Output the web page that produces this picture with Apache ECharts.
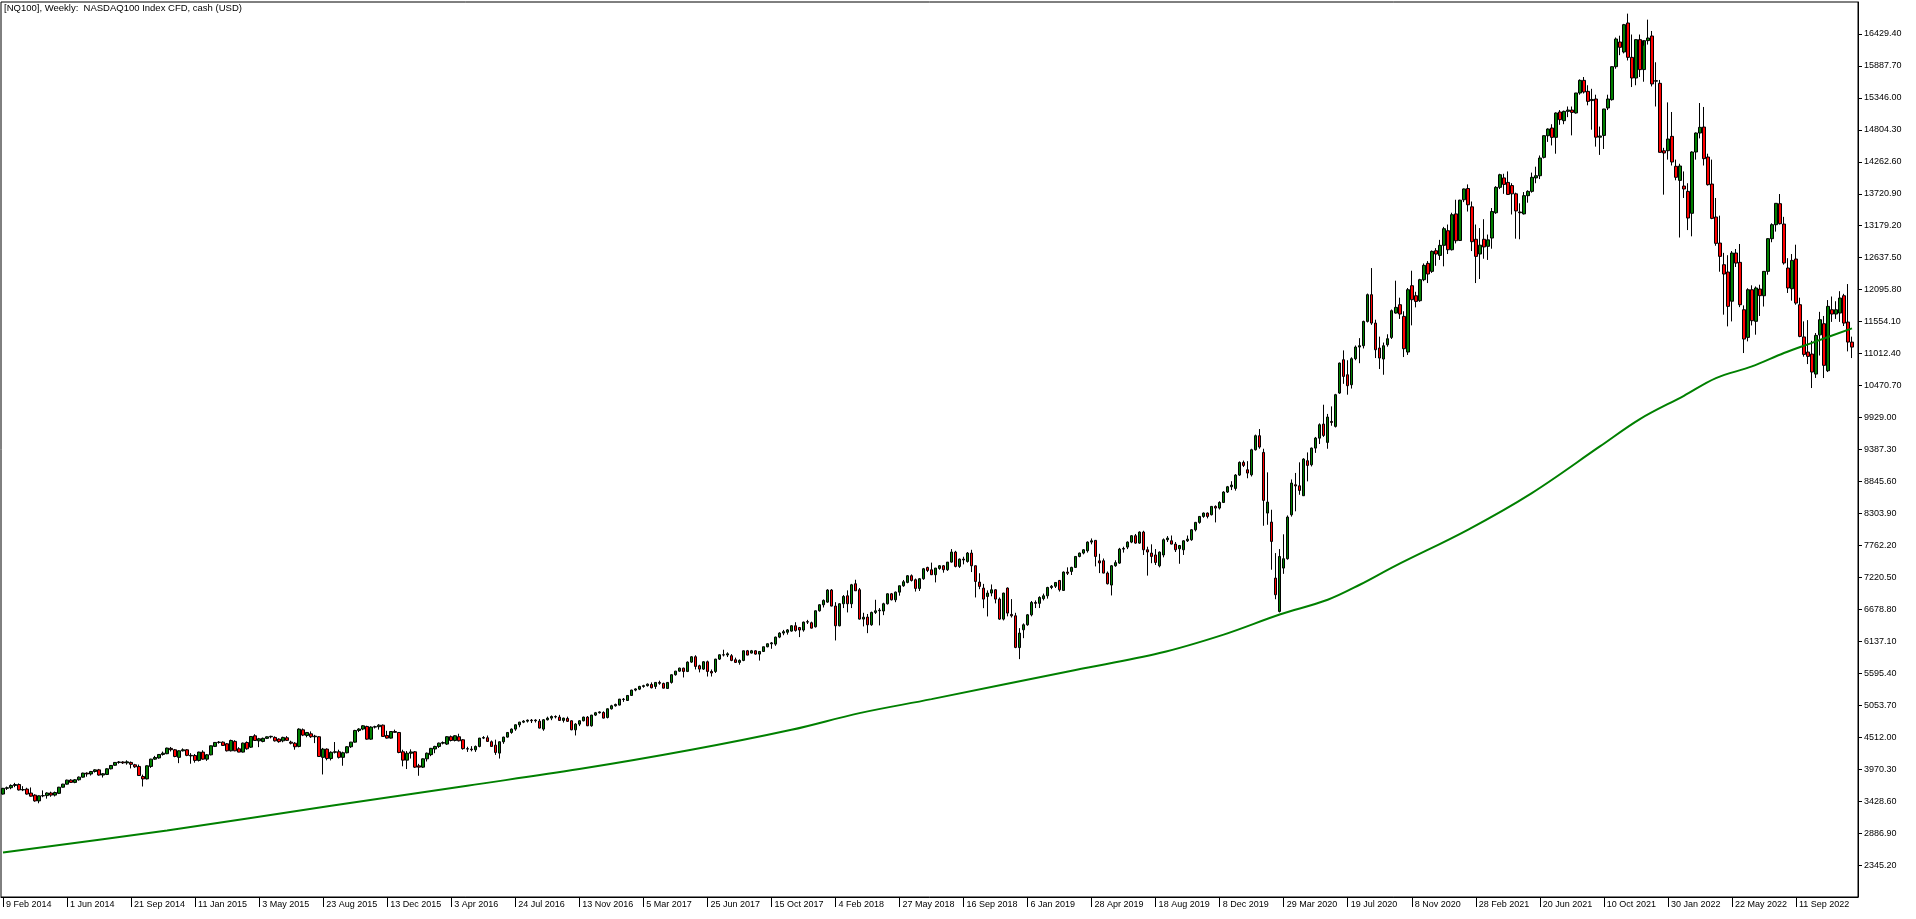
<!DOCTYPE html>
<html><head><meta charset="utf-8">
<script src="https://cdn.jsdelivr.net/npm/echarts/dist/echarts.min.js"></script>
<style>html,body{margin:0;padding:0;background:#fff;}#chart{width:1916px;height:919px;}</style>
</head><body><div id="chart"></div>
<script>
// Weekly bars, each row = [open, high, low, close]; first bar is the week of Sunday 9 Feb 2014
const w2014 = [
[3548,3652,3540,3645],[3645,3675,3618,3655],[3655,3712,3630,3694],[3694,3738,3665,3710],[3710,3728,3608,3618],
[3618,3682,3598,3625],[3632,3655,3538,3548],[3565,3660,3505,3512],[3530,3545,3418,3432],[3432,3525,3392,3518],
[3518,3610,3495,3522],[3522,3578,3470,3566],[3566,3588,3502,3530],[3530,3590,3508,3574],[3560,3670,3548,3664],
[3664,3722,3658,3716],[3716,3792,3708,3784],[3784,3800,3738,3746],[3746,3802,3732,3790],[3790,3846,3776,3835],
[3835,3910,3826,3903],[3903,3915,3842,3888],[3888,3940,3862,3930],[3930,3968,3912,3958],[3958,3974,3860,3870],
[3870,3905,3828,3892],[3880,3985,3870,3976],[3976,4040,3966,4033],[4036,4090,4028,4084],[4084,4108,4062,4092],
[4092,4104,4058,4076],[4076,4120,4046,4094],[4084,4100,3982,4052],[4044,4060,3992,4010],[4016,4048,3856,3862],
[3846,3878,3676,3805],[3805,4034,3796,4027],[4016,4146,3992,4140],[4140,4195,4128,4168],[4160,4226,4148,4219],
[4219,4268,4200,4240],[4232,4334,4224,4327],[4322,4346,4270,4300],[4298,4312,4172,4185],[4170,4290,4072,4281],
[4281,4322,4270,4298],[4298,4310,4190,4204]
];
const w2015 = [
[4204,4242,4062,4195],[4202,4226,4080,4118],[4118,4266,4100,4259],[4259,4290,4130,4140],[4140,4226,4110,4213],
[4213,4370,4204,4366],[4356,4430,4345,4423],[4423,4446,4402,4428],[4428,4440,4362,4372],[4400,4412,4270,4281],
[4281,4470,4270,4456],[4441,4460,4274,4281],[4315,4342,4256,4259],[4259,4420,4252,4411],[4422,4440,4300,4315],
[4343,4530,4330,4524],[4535,4562,4448,4456],[4450,4500,4343,4485],[4440,4505,4425,4492],[4492,4526,4480,4518],
[4518,4536,4492,4526],[4508,4526,4438,4450],[4480,4492,4418,4436],[4450,4520,4426,4508],[4502,4530,4450,4458],
[4428,4452,4390,4410],[4410,4428,4300,4350],[4355,4662,4340,4649],[4637,4660,4530,4547],[4541,4600,4510,4592],
[4569,4610,4500,4519],[4519,4552,4412,4530],[4519,4530,4180,4185],[4170,4330,3880,4310],[4310,4322,4120,4150],
[4150,4272,4118,4256],[4256,4430,4236,4265],[4265,4300,4150,4170],[4170,4266,4028,4248],[4248,4362,4238,4350],
[4350,4432,4330,4428],[4428,4636,4420,4626],[4626,4664,4598,4650],[4650,4716,4630,4705],[4694,4706,4470,4479],
[4479,4696,4468,4683],[4683,4706,4660,4690],[4690,4732,4640,4716],[4716,4726,4520,4525],[4541,4620,4488,4496],
[4496,4616,4488,4608],[4608,4640,4588,4594]
];
const w2016 = [
[4592,4600,4240,4253],[4264,4300,4018,4123],[4123,4276,3972,4240],[4240,4306,4150,4262],[4264,4276,3990,4004],
[4026,4060,3858,4004],[4004,4152,3990,4145],[4145,4252,4100,4240],[4216,4330,4190,4322],[4312,4366,4240,4355],
[4355,4420,4330,4411],[4411,4440,4390,4420],[4395,4530,4380,4520],[4520,4540,4440,4456],[4456,4546,4440,4536],
[4519,4570,4440,4451],[4468,4480,4300,4318],[4318,4350,4262,4310],[4310,4360,4272,4300],[4298,4370,4262,4355],
[4355,4500,4340,4496],[4496,4530,4480,4506],[4502,4540,4438,4440],[4434,4456,4350,4355],[4377,4470,4212,4253],
[4242,4440,4150,4434],[4434,4520,4400,4513],[4513,4600,4505,4592],[4592,4660,4570,4649],[4649,4730,4620,4722],
[4722,4772,4680,4767],[4767,4800,4750,4784],[4784,4812,4760,4800],[4800,4820,4752,4790],[4790,4816,4760,4802],
[4784,4820,4660,4666],[4649,4820,4620,4807],[4807,4860,4795,4835],[4835,4880,4800,4862],[4862,4882,4830,4855],
[4852,4890,4790,4796],[4796,4842,4760,4835],[4830,4860,4770,4780],[4790,4796,4630,4637],[4637,4750,4541,4733],
[4733,4800,4700,4790],[4790,4860,4780,4852],[4852,4870,4700,4705],[4705,4890,4690,4886],[4886,4940,4870,4926],
[4926,4950,4912,4940],[4931,4950,4830,4835]
];
const w2017 = [
[4846,5000,4830,4993],[4993,5060,4980,5044],[5044,5080,5030,5067],[5056,5160,5050,5157],[5157,5176,5110,5150],
[5134,5226,5125,5219],[5219,5316,5210,5310],[5310,5340,5290,5330],[5326,5382,5310,5372],[5372,5400,5350,5385],
[5385,5422,5370,5411],[5406,5440,5340,5349],[5372,5446,5330,5440],[5440,5470,5400,5425],[5423,5436,5340,5343],
[5338,5446,5330,5440],[5440,5576,5420,5570],[5570,5636,5555,5631],[5631,5690,5620,5682],[5682,5690,5524,5626],
[5626,5796,5615,5784],[5784,5886,5770,5875],[5875,5900,5660,5711],[5722,5740,5610,5666],[5666,5800,5650,5790],
[5790,5810,5540,5626],[5626,5660,5540,5600],[5626,5840,5600,5835],[5835,5916,5820,5908],[5908,5994,5880,5905],
[5905,5950,5870,5925],[5892,5920,5800,5813],[5824,5860,5770,5779],[5779,5830,5740,5813],[5813,5980,5800,5976],
[5976,5990,5900,5903],[5937,5990,5930,5976],[5976,5986,5910,5920],[5920,5970,5810,5965],[5965,6046,5955,6044],
[6044,6100,6035,6095],[6095,6125,6010,6110],[6089,6216,6060,6208],[6208,6290,6190,6276],[6276,6330,6240,6300],
[6290,6345,6250,6330],[6310,6410,6300,6400],[6400,6460,6300,6321],[6370,6380,6208,6328],[6328,6470,6300,6462],
[6462,6500,6430,6470],[6451,6470,6356,6360],[6383,6660,6370,6654]
];
const w2018 = [
[6654,6765,6640,6756],[6756,6846,6710,6830],[6801,7020,6790,7005],[7005,7022,6730,6734],[6734,6800,6151,6400],
[6400,6780,6390,6773],[6773,6920,6700,6897],[6908,7000,6626,6773],[6773,7110,6700,7095],[7112,7180,6990,6993],
[7010,7040,6505,6513],[6513,6620,6389,6545],[6547,6600,6275,6417],[6417,6640,6400,6626],[6626,6841,6600,6654],
[6654,6700,6406,6665],[6650,6790,6580,6773],[6773,6950,6760,6942],[6942,6956,6830,6840],[6840,6980,6800,6970],
[6970,7080,6910,7078],[7078,7176,7060,7146],[7135,7260,7120,7248],[7248,7270,7150,7168],[7180,7200,6980,7033],
[7033,7210,6990,7197],[7197,7380,7180,7366],[7389,7400,7310,7338],[7349,7470,7260,7265],[7265,7380,7135,7378],
[7372,7430,7350,7417],[7417,7430,7300,7350],[7350,7480,7330,7479],[7479,7700,7470,7649],[7649,7670,7390,7406],
[7406,7540,7380,7530],[7530,7570,7440,7515],[7490,7650,7470,7632],[7632,7688,7310,7417],[7417,7420,6880,7151],
[7140,7290,7020,7067],[7038,7110,6699,6852],[6897,7000,6558,6954],[6954,7100,6900,7010],[7010,7020,6780,6852],
[6852,6880,6500,6513],[6513,6960,6490,6954],[7039,7050,6560,6615],[6592,6852,6540,6569],[6569,6620,6020,6033],
[6030,6360,5835,6276],[6332,6440,6190,6417]
];
const w2019 = [
[6417,6600,6400,6586],[6586,6820,6560,6795],[6795,6830,6700,6780],[6780,6900,6700,6880],[6860,6945,6830,6908],
[6908,7060,6860,7049],[7049,7090,7020,7070],[7070,7140,7040,7134],[7168,7176,6980,7010],[6999,7320,6990,7310],
[7310,7390,7260,7290],[7321,7400,7260,7389],[7389,7580,7380,7575],[7575,7640,7560,7632],[7632,7700,7610,7688],
[7671,7830,7640,7818],[7818,7880,7780,7840],[7847,7850,7406,7575],[7500,7620,7293,7465],[7502,7540,7290,7293],
[7293,7320,7100,7112],[7090,7430,6914,7417],[7417,7510,7400,7470],[7462,7720,7450,7699],[7699,7740,7640,7710],
[7733,7830,7700,7818],[7818,7936,7800,7926],[7926,7956,7790,7801],[7801,8000,7790,7988],[7988,8010,7600,7688],
[7688,7740,7250,7650],[7632,7780,7460,7575],[7600,7700,7430,7473],[7416,7660,7390,7648],[7600,7880,7560,7858],
[7858,7920,7820,7886],[7841,7930,7780,7784],[7784,7820,7650,7688],[7705,7770,7451,7760],[7688,7850,7600,7840],
[7840,7930,7820,7868],[7858,8040,7840,8027],[8027,8160,8000,8152],[8152,8260,8130,8253],[8253,8320,8230,8310],
[8310,8320,8220,8253],[8282,8430,8270,8423],[8423,8440,8152,8395],[8395,8510,8370,8490],[8490,8680,8480,8666],
[8666,8770,8650,8756],[8756,8850,8700,8784]
];
const w2020 = [
[8728,8970,8690,8954],[8954,9185,8940,9169],[9169,9200,9090,9118],[9044,9190,8900,8988],[8959,9400,8930,9383],
[9383,9640,9370,9621],[9621,9734,9400,9429],[9338,9400,8095,8525],[8310,9000,8112,8496],[8157,8366,7350,7829],
[7208,7632,6850,6926],[6643,7700,6626,7575],[7378,7950,7280,7536],[7536,8270,7520,8242],[8281,8880,8250,8818],
[8790,8990,8340,8770],[8772,9170,8620,8694],[8604,9240,8600,9225],[9197,9338,8847,9118],[9129,9420,9100,9411],
[9411,9600,9330,9581],[9580,9830,9480,9807],[9818,10146,9600,9626],[9508,9990,9400,9937],[9863,10118,9790,9846],
[9779,10330,9760,10316],[10344,10860,10330,10852],[10909,11067,10500,10626],[10654,10900,10316,10468],[10485,10950,10420,10926],
[10926,11150,10900,11124],[11124,11275,10850,11146],[11146,11570,11100,11558],[11558,12030,11540,12011],[12011,12462,11500,11530],
[11530,11587,10937,11078],[11107,11300,10751,10937],[10920,11200,10654,11146],[11163,11340,11130,11265],[11287,11760,11260,11740],
[11700,12248,11690,11796],[11841,11960,11600,11683],[11643,11730,10954,11095],[11039,12124,10990,12095],[12163,12417,11491,11926],
[11993,12060,11796,11897],[11909,12280,11890,12265],[12265,12540,12240,12508],[12542,12580,12208,12361],[12406,12760,12380,12745],
[12756,12800,12500,12700],[12677,12940,12600,12847]
];
const w2021 = [
[12847,13160,12491,13129],[13095,13200,12700,12773],[12773,13400,12760,13366],[13380,13620,12880,12925],[12930,13620,12920,13612],
[13620,13810,13580,13803],[13810,13880,13420,13535],[13500,13590,12750,12909],[12950,13200,12208,12660],[12700,13140,12276,12850],
[12950,13290,12620,12820],[12830,13030,12600,12940],[12971,13480,12790,13420],[13400,13850,13380,13830],[13830,14060,13800,14044],
[13990,14060,13720,13880],[13914,14100,13700,13710],[13860,13900,13370,13720],[13720,13740,12960,13430],[13412,13560,12950,13400],
[13380,13750,13370,13689],[13689,13780,13570,13762],[13762,14080,13740,14000],[13990,14180,13900,14027],[14027,14370,13970,14327],
[14338,14710,14320,14705],[14705,14830,14600,14818],[14835,14900,14540,14677],[14677,15100,14400,15090],[15107,15140,14890,14977],
[14960,15130,14900,15118],[15118,15200,15020,15140],[15140,15200,14711,15100],[15090,15430,15080,15429],[15429,15660,15400,15643],
[15643,15700,15420,15446],[15457,15560,15220,15287],[15300,15500,14807,15320],[15327,15400,14520,14680],[14680,14860,14380,14700],
[14710,15160,14480,15158],[15175,15400,15140,15327],[15316,15880,15300,15875],[15875,16370,15840,16344],[16293,16400,16070,16203],
[16124,16600,16100,16587],[16615,16774,15980,16033],[16033,16420,15530,15683],[15683,16340,15560,16333],[16333,16420,15700,15825],
[15826,16230,15620,16316],[16316,16672,16250,16361]
];
const w2022 = [
[16395,16480,15540,15582],[15630,15950,15200,15637],[15593,15650,14420,14423],[14450,14500,13706,14412],[14451,15270,14300,14649],
[14694,15107,14200,14260],[14186,14300,13950,14000],[13948,14230,12980,14192],[13852,14100,13650,13802],[13762,13900,13106,13310],
[13390,14440,13000,14429],[14429,14760,14300,14751],[14751,15259,14660,14847],[14852,15192,14200,14316],[14344,14400,13860,13875],
[13886,14300,13290,13304],[13327,13650,12840,12881],[12886,13350,12400,12660],[12519,12720,11672,12361],[12395,12680,11474,11813],
[11900,12750,11558,12717],[12717,12785,12480,12547],[12559,12870,11800,11841],[11756,11830,11022,11259],[11287,12120,11220,12095],
[12095,12170,11490,11570],[11559,12150,11333,12124],[12107,12180,11650,11994],[11993,12410,11810,12406],[12406,12970,12350,12960],
[12960,13220,12900,13197],[13197,13560,13080,13559],[13553,13717,13200,13214],[13208,13330,12520,12548],[12463,12630,12040,12124],
[12112,12700,11909,12592],[12615,12858,11840,11869],[11841,11960,11290,11304],[11295,11559,10960,10999],[11039,11580,10835,10965],
[11005,11230,10429,10700],[10666,11361,10600,11321],[11330,11720,10980,11587],[11519,11650,10598,10813],[10722,11920,10700,11813],
[11756,11980,11550,11683],[11683,11900,11600,11756],[11700,12070,11550,11954],[11993,12025,11480,11530],[11547,12191,11050,11208],
[11208,11300,10937,11123]
];
// Green moving average: [bar index, value]
const maIndex = [0, 41, 82, 116, 144, 172, 197, 214, 232, 268, 289, 305, 319, 331, 339, 348, 366, 382, 399, 409, 420, 428, 437, 445, 453, 462];
const maValue = [2557, 2930, 3349, 3690, 3971, 4298, 4637, 4920, 5157, 5652, 5937, 6250, 6590, 6841, 7095, 7420, 8027, 8649, 9439, 9903, 10298, 10598, 10795, 11022, 11219, 11440];
// Time axis tick labels (every 16 weeks)
const xTickLabels = ['9 Feb 2014','1 Jun 2014','21 Sep 2014','11 Jan 2015','3 May 2015','23 Aug 2015','13 Dec 2015','3 Apr 2016','24 Jul 2016','13 Nov 2016','5 Mar 2017','25 Jun 2017','15 Oct 2017','4 Feb 2018','27 May 2018','16 Sep 2018','6 Jan 2019','28 Apr 2019','18 Aug 2019','8 Dec 2019','29 Mar 2020','19 Jul 2020','8 Nov 2020','28 Feb 2021','20 Jun 2021','10 Oct 2021','30 Jan 2022','22 May 2022','11 Sep 2022'];
// Price axis
const yMin = 1803.5, yMax = 16971.1, yStep = 541.7;

const bars = [].concat(w2014, w2015, w2016, w2017, w2018, w2019, w2020, w2021, w2022);
const monthNames = ['Jan','Feb','Mar','Apr','May','Jun','Jul','Aug','Sep','Oct','Nov','Dec'];
const categories = [];
const t0 = Date.UTC(2014, 1, 9);
for (let i = 0; i <= bars.length; i++) { // one empty slot on the right
  const d = new Date(t0 + i * 7 * 86400000);
  categories.push(d.getUTCDate() + ' ' + monthNames[d.getUTCMonth()] + ' ' + d.getUTCFullYear());
}
const candleData = bars.map(b => [b[0], b[3], b[2], b[1]]);
const maData = categories.map(() => null);
maIndex.forEach((k, j) => { maData[k] = maValue[j]; });

const FONT = 'Liberation Sans';
const chart = echarts.init(document.getElementById('chart'), null, { renderer: 'canvas' });
chart.setOption({
  animation: false,
  backgroundColor: '#ffffff',
  title: {
    text: '[NQ100], Weekly:  NASDAQ100 Index CFD, cash (USD)',
    left: 4, top: 3, padding: 0,
    textStyle: { fontFamily: FONT, fontSize: 9.5, fontWeight: 'normal', color: '#000' }
  },
  grid: { left: 1, right: 58, top: 2, bottom: 22, show: true, borderColor: '#000', borderWidth: 1, backgroundColor: '#fff' },
  xAxis: {
    type: 'category', data: categories, boundaryGap: true,
    axisLine: { lineStyle: { color: '#000', width: 1 } },
    axisTick: { show: true, interval: 15, alignWithLabel: true, length: 10, lineStyle: { color: '#000' } },
    axisLabel: {
      interval: 15, align: 'left', margin: 3, padding: [0, 0, 0, 3],
      fontFamily: FONT, fontSize: 9, color: '#000',
      formatter: (v, i) => (i % 16 === 0 && xTickLabels[i / 16]) ? xTickLabels[i / 16] : v
    },
    splitLine: { show: false }
  },
  yAxis: {
    type: 'value', position: 'right', min: yMin, max: yMax, interval: yStep,
    axisLine: { show: true, lineStyle: { color: '#000', width: 1 } },
    axisTick: { show: true, length: 4, lineStyle: { color: '#000' } },
    axisLabel: { margin: 6, fontFamily: FONT, fontSize: 9, color: '#000', showMinLabel: false, showMaxLabel: false,
      formatter: v => v.toFixed(2) },
    splitLine: { show: false }
  },
  series: [
    {
      type: 'candlestick', data: candleData, barWidth: 3,
      itemStyle: { color: '#008000', color0: '#ff0000', borderColor: '#000', borderColor0: '#000', borderWidth: 1 }
    },
    {
      type: 'line', data: maData, connectNulls: true, showSymbol: false, symbol: 'none', smooth: 0.35,
      lineStyle: { color: '#008000', width: 2 }
    }
  ]
});
</script>
</body></html>
